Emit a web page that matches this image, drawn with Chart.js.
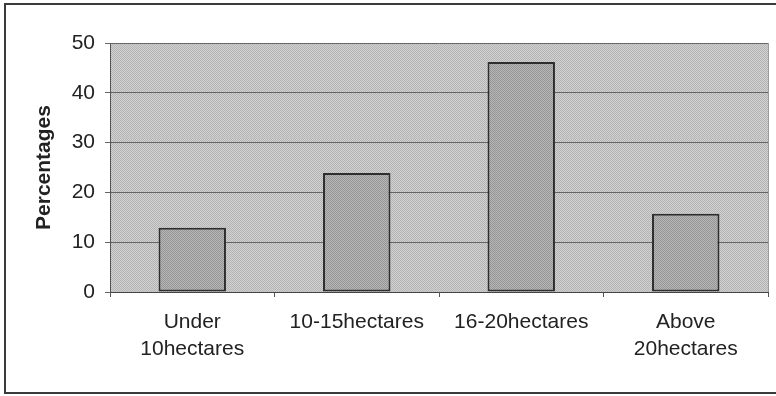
<!DOCTYPE html>
<html>
<head>
<meta charset="utf-8">
<script src="https://cdn.jsdelivr.net/npm/chart.js@4/dist/chart.umd.min.js"></script>
<style>
  html, body { margin: 0; padding: 0; background: #ffffff; }
  #wrap { width: 776px; height: 396px; position: relative; }
</style>
</head>
<body>
<div id="wrap"><canvas id="chart" width="776" height="396"></canvas></div>
<script>
// Farm size groups and the share of respondents in each
const categories = [['Under', '10hectares'], '10-15hectares', '16-20hectares', ['Above', '20hectares']];
const percentages = [12.9, 23.9, 46.2, 15.7];
const yTicks = [0, 10, 20, 30, 40, 50];
const yTitle = 'Percentages';

// Fine halftone fills
function dither(light, dark) {
  const c = document.createElement('canvas');
  c.width = 2; c.height = 2;
  const g = c.getContext('2d');
  g.fillStyle = light; g.fillRect(0, 0, 2, 2);
  g.fillStyle = dark; g.fillRect(0, 0, 1, 1); g.fillRect(1, 1, 1, 1);
  return g.createPattern(c, 'repeat');
}
const plotFill = dither('#d2d2d2', '#b3b3b3');
const barFill = dither('#b6b6b6', '#969696');

// Shaded plot area plus the surrounding frame
const backdrop = {
  id: 'backdrop',
  beforeDraw(chart) {
    const { ctx, chartArea: a } = chart;
    ctx.save();
    ctx.fillStyle = plotFill;
    ctx.fillRect(a.left, a.top, a.right - a.left, a.bottom - a.top);
    ctx.strokeStyle = '#9a9a9a';
    ctx.lineWidth = 1;
    ctx.beginPath();
    ctx.moveTo(a.right + 0.5, a.top);
    ctx.lineTo(a.right + 0.5, a.bottom + 5);
    ctx.stroke();
    ctx.restore();
  },
  afterDraw(chart) {
    const { ctx } = chart;
    ctx.save();
    ctx.strokeStyle = '#3a3a3a';
    ctx.lineWidth = 2;
    ctx.strokeRect(5, 4, 790, 389);
    ctx.restore();
  }
};

const labelFont = { family: '"Liberation Sans", Arial, sans-serif', size: 21 };

new Chart(document.getElementById('chart'), {
  type: 'bar',
  data: {
    labels: categories,
    datasets: [{
      data: percentages,
      backgroundColor: barFill,
      borderColor: '#2e2e2e',
      borderWidth: 2,
      borderSkipped: false,
      categoryPercentage: 1,
      barPercentage: 0.41
    }]
  },
  options: {
    responsive: false,
    animation: false,
    devicePixelRatio: 1,
    layout: { padding: { left: 0, right: 8, top: 43, bottom: 0 } },
    plugins: { legend: { display: false }, tooltip: { enabled: false } },
    scales: {
      x: {
        offset: true,
        grid: {
          offset: true,
          drawOnChartArea: false,
          drawTicks: true,
          tickLength: 5,
          color: '#555555'
        },
        border: { color: '#444444', width: 1 },
        ticks: {
          color: '#222222',
          padding: 12,
          maxRotation: 0,
          autoSkip: false,
          font: Object.assign({ lineHeight: 1.29 }, labelFont)
        },
        afterFit(scale) { scale.height = 104; }
      },
      y: {
        min: 0,
        max: 50,
        afterBuildTicks(scale) { scale.ticks = yTicks.map(v => ({ value: v })); },
        grid: {
          color: '#666666',
          lineWidth: 1,
          tickLength: 5
        },
        border: { color: '#555555', width: 1 },
        ticks: {
          color: '#222222',
          padding: 10,
          font: labelFont
        },
        title: {
          display: true,
          text: yTitle,
          color: '#222222',
          padding: { top: 32, bottom: 0 },
          font: Object.assign({}, labelFont, { weight: 'bold' })
        },
        afterFit(scale) { scale.width = 110; }
      }
    }
  },
  plugins: [backdrop]
});
</script>
</body>
</html>
